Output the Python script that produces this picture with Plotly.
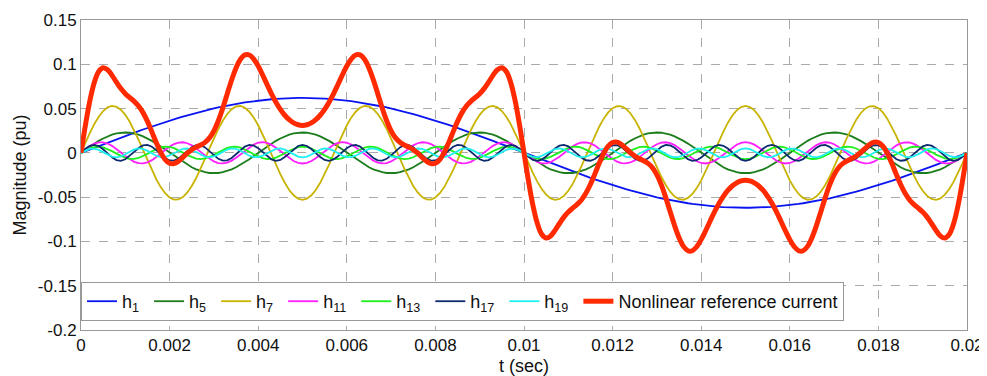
import numpy as np
import plotly.graph_objects as go

# Harmonic content (50 Hz fundamental, 1 cycle)
f0 = 50.0
harmonic_orders = [1, 5, 7, 11, 13, 17, 19]
harmonic_amplitudes = [0.062, 0.023, 0.053, 0.012, 0.007, 0.009, 0.005]
harmonic_names = ["h<sub>1</sub>\u00a0", "h<sub>5</sub>\u00a0", "h<sub>7</sub>\u00a0", "h<sub>11</sub>\u00a0",
                  "h<sub>13</sub>\u00a0", "h<sub>17</sub>\u00a0", "h<sub>19</sub>\u00a0"]
harmonic_colors = ["#0a14f0", "#1c7d1c", "#c8b400", "#ff1eff", "#1ef01e", "#0c2a6e", "#1ef0f0"]
total_name = "Nonlinear reference current"
total_color = "#ff2a00"

x_ticks = [0, 0.002, 0.004, 0.006, 0.008, 0.01, 0.012, 0.014, 0.016, 0.018, 0.02]
x_tick_labels = ["0", "0.002", "0.004", "0.006", "0.008", "0.01", "0.012", "0.014", "0.016", "0.018", "0.02"]
y_ticks = [-0.2, -0.15, -0.1, -0.05, 0, 0.05, 0.1, 0.15]
y_tick_labels = ["-0.2", "-0.15", "-0.1", "-0.05", "0", "0.05", "0.1", "0.15"]

t = np.linspace(0, 0.02, 201)

fig = go.Figure()
total = np.zeros_like(t)
for n, a, name, col in zip(harmonic_orders, harmonic_amplitudes, harmonic_names, harmonic_colors):
    y = a * np.sin(2 * np.pi * f0 * n * t)
    total += y
    fig.add_trace(go.Scatter(x=t, y=y, mode="lines", name=name,
                             line=dict(color=col, width=1.8)))
fig.add_trace(go.Scatter(x=t, y=total, mode="lines", name=total_name,
                         line=dict(color=total_color, width=5, shape="spline")))

font = "Liberation Sans, Arial, sans-serif"
axis_common = dict(showline=True, mirror=True, linecolor="#999999", linewidth=1,
                   showgrid=True, gridcolor="#aaaaaa", griddash="dash", gridwidth=1,
                   zeroline=False, ticks="", automargin=False, ticklabeloverflow="allow",
                   tickfont=dict(size=17, color="#111111", family=font))

# page body has an 8px margin; figure sized so the plot lands where the reference has it
fig.update_layout(
    width=979, height=368,
    margin=dict(l=73, r=20, t=12, b=46),
    plot_bgcolor="white", paper_bgcolor="white",
    font=dict(family=font, size=17, color="#111111"),
    xaxis=dict(range=[0, 0.02], tickvals=x_ticks, ticktext=x_tick_labels,
               title=dict(text="t (sec)", font=dict(size=18), standoff=11), **axis_common),
    yaxis=dict(range=[-0.2, 0.15], tickvals=y_ticks, ticktext=y_tick_labels,
               title=dict(text="Magnitude (pu)", font=dict(size=18), standoff=6), **axis_common),
    legend=dict(orientation="h", x=0, y=0.029, xanchor="left", yanchor="bottom",
                bgcolor="white", bordercolor="#999999", borderwidth=1,
                font=dict(size=18, family=font), tracegroupgap=0),
    showlegend=True,
)

fig.write_html("out.html")
